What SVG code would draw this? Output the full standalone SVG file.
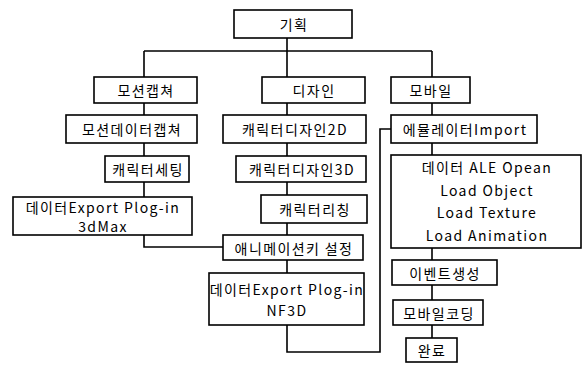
<svg xmlns="http://www.w3.org/2000/svg" width="584" height="365" viewBox="0 0 584 365">
<style>
.b{fill:#fff;stroke:#000;stroke-width:1.6}
.t{font-family:"Noto Sans CJK KR","Liberation Sans",sans-serif;font-size:14px;letter-spacing:1.4px;fill:#000;text-anchor:middle;dominant-baseline:central}
.c{fill:none;stroke:#000;stroke-width:1.6}
</style>
<rect width="584" height="365" fill="#fff"/>
<g id="connectors">
<path class="c" d="M287 38V77M144 51H432M144 51V77M432 51V77"/>
<path class="c" d="M144 103V115M144 143V156M144 182V197M144 235V247H223"/>
<path class="c" d="M287 103V115M287 143V156M287 182V195M287 223V235M287 260V273M287 325V352H380V129H391"/>
<path class="c" d="M432 103V115M432 143V155M432 248V260M432 285V300M432 325V338"/>
</g>
<g id="n_plan"><rect class="b" x="234" y="10" width="118" height="28"/><text class="t" x="294" y="24">기획</text></g>
<g id="n_motion"><rect class="b" x="94" y="77" width="103" height="26"/><text class="t" x="146" y="90">모션캡쳐</text></g>
<g id="n_design"><rect class="b" x="262" y="77" width="103" height="26"/><text class="t" x="314" y="90">디자인</text></g>
<g id="n_mobile"><rect class="b" x="391" y="77" width="79" height="26"/><text class="t" x="431" y="90">모바일</text></g>
<g id="n_mdata"><rect class="b" x="66" y="115" width="131" height="28"/><text class="t" x="132" y="129">모션데이터캡쳐</text></g>
<g id="n_charset"><rect class="b" x="105" y="156" width="84" height="26"/><text class="t" x="148" y="169">캐릭터세팅</text></g>
<g id="n_exp3d"><rect class="b" x="13" y="197" width="179" height="38"/><text class="t" x="103" y="207">데이터Export Plog-in</text><text class="t" x="103" y="226">3dMax</text></g>
<g id="n_c2d"><rect class="b" x="223" y="115" width="143" height="28"/><text class="t" x="295" y="129">캐릭터디자인2D</text></g>
<g id="n_c3d"><rect class="b" x="236" y="156" width="130" height="26"/><text class="t" x="302" y="169">캐릭터디자인3D</text></g>
<g id="n_rig"><rect class="b" x="261" y="195" width="106" height="28"/><text class="t" x="315" y="209">캐릭터리칭</text></g>
<g id="n_anim"><rect class="b" x="223" y="235" width="140" height="25"/><text class="t" x="294" y="247.5">애니메이션키 설정</text></g>
<g id="n_expnf"><rect class="b" x="209" y="273" width="155" height="52"/><text class="t" x="287" y="289">데이터Export Plog-in</text><text class="t" x="287" y="310">NF3D</text></g>
<g id="n_emu"><rect class="b" x="391" y="115" width="146" height="28"/><text class="t" x="465" y="129">에뮬레이터Import</text></g>
<g id="n_load"><rect class="b" x="391" y="155" width="190" height="93"/><text class="t" x="487" y="167">데이터 ALE Opean</text><text class="t" x="487" y="190">Load Object</text><text class="t" x="487" y="212">Load Texture</text><text class="t" x="487" y="235">Load Animation</text></g>
<g id="n_event"><rect class="b" x="392" y="260" width="105" height="25"/><text class="t" x="445" y="272.5">이벤트생성</text></g>
<g id="n_code"><rect class="b" x="393" y="300" width="90" height="25"/><text class="t" x="439" y="312.5">모바일코딩</text></g>
<g id="n_done"><rect class="b" x="406" y="338" width="51" height="24"/><text class="t" x="432" y="350">완료</text></g>
</svg>
